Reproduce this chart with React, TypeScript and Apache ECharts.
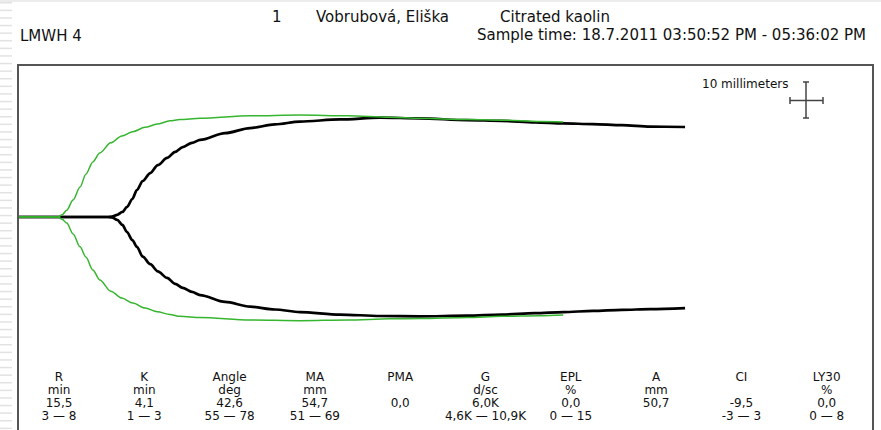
import React, { useEffect, useRef } from "react";
import * as echarts from "echarts";

// Black trace (patient) – time in minutes, amplitude in mm (upper / lower branch)
const blackTime = [0, 15.5, 16.2, 17.1, 18.0, 18.8, 19.7, 20.5, 21.5, 22.8, 24.1, 25.7, 27.1, 28.4, 30.0, 31.4, 35.7, 40.0, 44.3, 48.6, 55.5, 62.4, 69.3, 77.4, 83.4, 89.1, 94.0, 99.1, 104.1, 109.0, 115.0];
const blackUpper = [0, 0, 0.1, 0.6, 1.4, 2.8, 5.0, 7.5, 10.0, 12.2, 14.4, 16.4, 18.1, 19.4, 20.6, 21.4, 23.3, 24.7, 25.7, 26.5, 27.1, 27.6, 27.4, 26.9, 26.7, 26.3, 26.0, 25.8, 25.5, 25.1, 25.0];
const blackLower = [0, 0, -0.1, -0.8, -2.2, -4.2, -6.4, -8.3, -11.0, -13.1, -15.1, -16.9, -18.6, -19.7, -20.8, -21.7, -23.6, -24.9, -25.7, -26.4, -27.1, -27.5, -27.6, -27.4, -27.1, -26.7, -26.4, -26.1, -25.8, -25.6, -25.3];

// Green trace (reference)
const greenTime = [0, 6.9, 7.6, 8.4, 9.5, 10.7, 11.7, 12.9, 14.1, 16.0, 17.9, 19.8, 21.9, 24.0, 26.2, 27.9, 31.4, 40.0, 48.6, 56.9, 64.1, 69.3, 77.4, 83.4, 90.0, 94.0];
const greenUpper = [0, 0, 0.6, 1.9, 4.7, 8.3, 11.9, 15.3, 17.8, 20.6, 22.5, 23.7, 24.9, 25.8, 26.7, 27.1, 27.4, 28.1, 28.3, 28.1, 27.7, 27.4, 27.1, 26.9, 26.5, 26.4];
const greenLower = [0, 0, -0.6, -1.7, -4.7, -8.3, -11.1, -14.7, -17.5, -20.6, -22.5, -23.9, -25.3, -26.3, -27.1, -27.6, -27.9, -28.6, -28.8, -28.6, -28.3, -28.2, -27.9, -27.6, -27.4, -27.2];

// Parameter table
const paramNames = ["R", "K", "Angle", "MA", "PMA", "G", "EPL", "A", "CI", "LY30"];
const paramUnits = ["min", "min", "deg", "mm", "", "d/sc", "%", "mm", "", "%"];
const paramValues = ["15,5", "4,1", "42,6", "54,7", "0,0", "6,0K", "0,0", "50,7", "-9,5", "0,0"];
const paramRanges = ["3 — 8", "1 — 3", "55 — 78", "51 — 69", "", "4,6K — 10,9K", "0 — 15", "", "-3 — 3", "0 — 8"];

const headerTexts = {
  index: "1",
  patient: "Vobrubová, Eliška",
  test: "Citrated kaolin",
  sample: "LMWH 4",
  time: "Sample time: 18.7.2011 03:50:52 PM - 05:36:02 PM",
  scale: "10 millimeters",
};

const FONT = "DejaVu Sans";

function pairs(xs: number[], ys: number[]) {
  return xs.map((x, i) => [x, ys[i]]);
}

export default function App() {
  const ref = useRef<HTMLDivElement>(null);
  useEffect(() => {
    if (!ref.current) return;
    const chart = echarts.init(ref.current, undefined, { renderer: "svg" });

    const graphics: any[] = [];
    // left striped margin
    for (let y = 2; y < 430; y += 7.6) {
      graphics.push({ type: "rect", shape: { x: 0, y, width: 12, height: 1.5 }, style: { fill: "#e2e2e2" }, silent: true });
    }
    graphics.push({ type: "rect", shape: { x: 0, y: 0, width: 881, height: 2 }, style: { fill: "#ececec" }, silent: true });
    // frame
    graphics.push({
      type: "polyline",
      shape: { points: [[18, 432], [18, 65], [873, 65], [873, 432]] },
      style: { stroke: "#555", lineWidth: 2, fill: null },
      z: 10,
    });
    // header
    const hdr = (text: string, x: number, y: number, align = "left", size = 15) => ({
      type: "text",
      x,
      y,
      style: { text, font: `${size}px "${FONT}"`, lineHeight: size, fill: "#111", textAlign: align, textVerticalAlign: "middle" },
    });
    graphics.push(hdr(headerTexts.index, 272, 17));
    graphics.push(hdr(headerTexts.patient, 316, 17));
    graphics.push(hdr(headerTexts.test, 500, 17));
    graphics.push(hdr(headerTexts.sample, 20, 36));
    graphics.push(hdr(headerTexts.time, 866, 34.5, "right"));
    graphics.push(hdr(headerTexts.scale, 702, 84, "left", 12));
    // scale cross
    const crossStyle = { stroke: "#444", lineWidth: 1.5 };
    graphics.push({ type: "line", shape: { x1: 806, y1: 82, x2: 806, y2: 118 }, style: crossStyle });
    graphics.push({ type: "line", shape: { x1: 803, y1: 82, x2: 809, y2: 82 }, style: crossStyle });
    graphics.push({ type: "line", shape: { x1: 803, y1: 118, x2: 809, y2: 118 }, style: crossStyle });
    graphics.push({ type: "line", shape: { x1: 790, y1: 100.5, x2: 823, y2: 100.5 }, style: crossStyle });
    graphics.push({ type: "line", shape: { x1: 790, y1: 97, x2: 790, y2: 104 }, style: crossStyle });
    graphics.push({ type: "line", shape: { x1: 823, y1: 97, x2: 823, y2: 104 }, style: crossStyle });
    // table
    const rows = [paramNames, paramUnits, paramValues, paramRanges];
    const rowY = [377, 390, 403, 416];
    paramNames.forEach((_, c) => {
      const cx = 59 + c * 85.3;
      rows.forEach((row, r) => {
        if (!row[c]) return;
        graphics.push({
          type: "text",
          x: cx,
          y: rowY[r],
          style: { text: row[c], font: `12px "${FONT}"`, lineHeight: 12, fill: "#111", textAlign: "center", textVerticalAlign: "middle" },
        });
      });
    });

    const mk = (data: number[][], color: string, width: number, z: number) => ({
      type: "line",
      data,
      showSymbol: false,
      smooth: 0.3,
      smoothMonotone: "x",
      lineStyle: { color, width },
      z,
      silent: true,
    });

    chart.setOption({
      animation: false,
      backgroundColor: "#fff",
      grid: { left: 18, right: 8, top: 65, bottom: 0 },
      xAxis: { type: "value", min: 0, max: 147.4, show: false },
      yAxis: { type: "value", min: -59.17, max: 42.22, show: false },
      series: [
        mk(pairs(blackTime, blackUpper), "#000", 2.7, 2),
        mk(pairs(blackTime, blackLower), "#000", 2.7, 2),
        mk(pairs(greenTime, greenUpper), "#36b52e", 1.5, 3),
        mk(pairs(greenTime, greenLower), "#36b52e", 1.5, 3),
      ],
      graphic: graphics,
    });
    return () => chart.dispose();
  }, []);
  return <div ref={ref} style={{ position: "fixed", left: 0, top: 0, width: 881, height: 430 }} />;
}
